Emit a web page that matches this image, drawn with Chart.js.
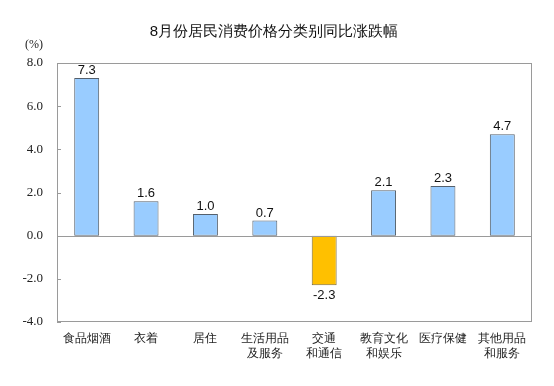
<!DOCTYPE html>
<html><head><meta charset="utf-8">
<script src="https://cdn.jsdelivr.net/npm/chart.js@4"></script>
<style>html,body{margin:0;padding:0;background:#fff}#wrap{width:554px;height:386px}</style>
</head><body><div id="wrap"><canvas id="c" width="554" height="386"></canvas></div>
<script>
const categories = [["食品烟酒"],["衣着"],["居住"],["生活用品","及服务"],["交通","和通信"],["教育文化","和娱乐"],["医疗保健"],["其他用品","和服务"]];
const values = [7.3, 1.6, 1.0, 0.7, -2.3, 2.1, 2.3, 4.7];
const yTicks = [-4, -2, 0, 2, 4, 6, 8];
const titleText = "8月份居民消费价格分类别同比涨跌幅";
const unitText = "(%)";

const sans = "'Liberation Sans', Arial, sans-serif";
const serif = "'Liberation Serif', 'Times New Roman', serif";

const framePlugin = {
  id: 'frame',
  afterDatasetsDraw(chart) {
    const {ctx, chartArea: a, scales} = chart;
    ctx.save();
    ctx.strokeStyle = '#9a9a9a';
    ctx.lineWidth = 1;
    ctx.strokeRect(Math.round(a.left)+0.5, Math.round(a.top)+0.5, Math.round(a.right-a.left)-1, Math.round(a.bottom-a.top)-1);
    yTicks.forEach(v => {
      const y = Math.round(scales.y.getPixelForValue(v)) + 0.5;
      ctx.beginPath(); ctx.moveTo(a.left, y); ctx.lineTo(a.left + 4, y); ctx.stroke();
    });
    const y0 = Math.round(scales.y.getPixelForValue(0)) + 0.5;
    ctx.beginPath(); ctx.moveTo(a.left, y0); ctx.lineTo(a.right, y0); ctx.stroke();
    ctx.fillStyle = '#111';
    ctx.font = '13px ' + sans;
    ctx.textAlign = 'center';
    const meta = chart.getDatasetMeta(0);
    meta.data.forEach((bar, i) => {
      const v = values[i];
      if (v >= 0) { ctx.textBaseline = 'bottom'; ctx.fillText(v.toFixed(1), bar.x, bar.y - 1); }
      else { ctx.textBaseline = 'top'; ctx.fillText(v.toFixed(1), bar.x, bar.y + 4); }
    });
    ctx.font = '12px ' + serif;
    ctx.textAlign = 'center'; ctx.textBaseline = 'middle';
    ctx.fillStyle = '#222';
    ctx.fillText(unitText, 34, 45);
    ctx.restore();
  }
};

new Chart(document.getElementById('c'), {
  type: 'bar',
  data: {
    labels: categories,
    datasets: [{
      data: values,
      backgroundColor: values.map(v => v < 0 ? '#FFC000' : '#99CCFF'),
      borderColor: values.map(v => v < 0 ? '#7a6a3a' : '#55606c'),
      borderWidth: 1,
      borderSkipped: false,
      barPercentage: 0.42,
      categoryPercentage: 1.0
    }]
  },
  options: {
    responsive: false,
    animation: false,
    layout: { padding: { left: 16, right: 22, top: 0, bottom: 0 } },
    plugins: {
      legend: { display: false },
      tooltip: { enabled: false },
      title: {
        display: true, text: titleText, color: '#111',
        font: { family: sans, size: 15, weight: 'normal', lineHeight: 1.2 },
        padding: { top: 23, bottom: 22 }
      }
    },
    scales: {
      x: {
        grid: { display: false, drawTicks: false },
        border: { display: false },
        ticks: { color: '#222', font: { family: sans, size: 12, lineHeight: 1.25 }, padding: 9, maxRotation: 0, autoSkip: false },
        afterFit(s) { s.height = 64; }
      },
      y: {
        min: -4, max: 8,
        afterBuildTicks(s) { s.ticks = yTicks.map(v => ({ value: v })); },
        grid: { display: false, drawTicks: false },
        border: { display: false },
        ticks: { color: '#222', font: { family: serif, size: 13 }, padding: 14, callback: v => v.toFixed(1) },
        afterFit(s) { s.width = 41; }
      }
    }
  },
  plugins: [framePlugin]
});
</script></body></html>
